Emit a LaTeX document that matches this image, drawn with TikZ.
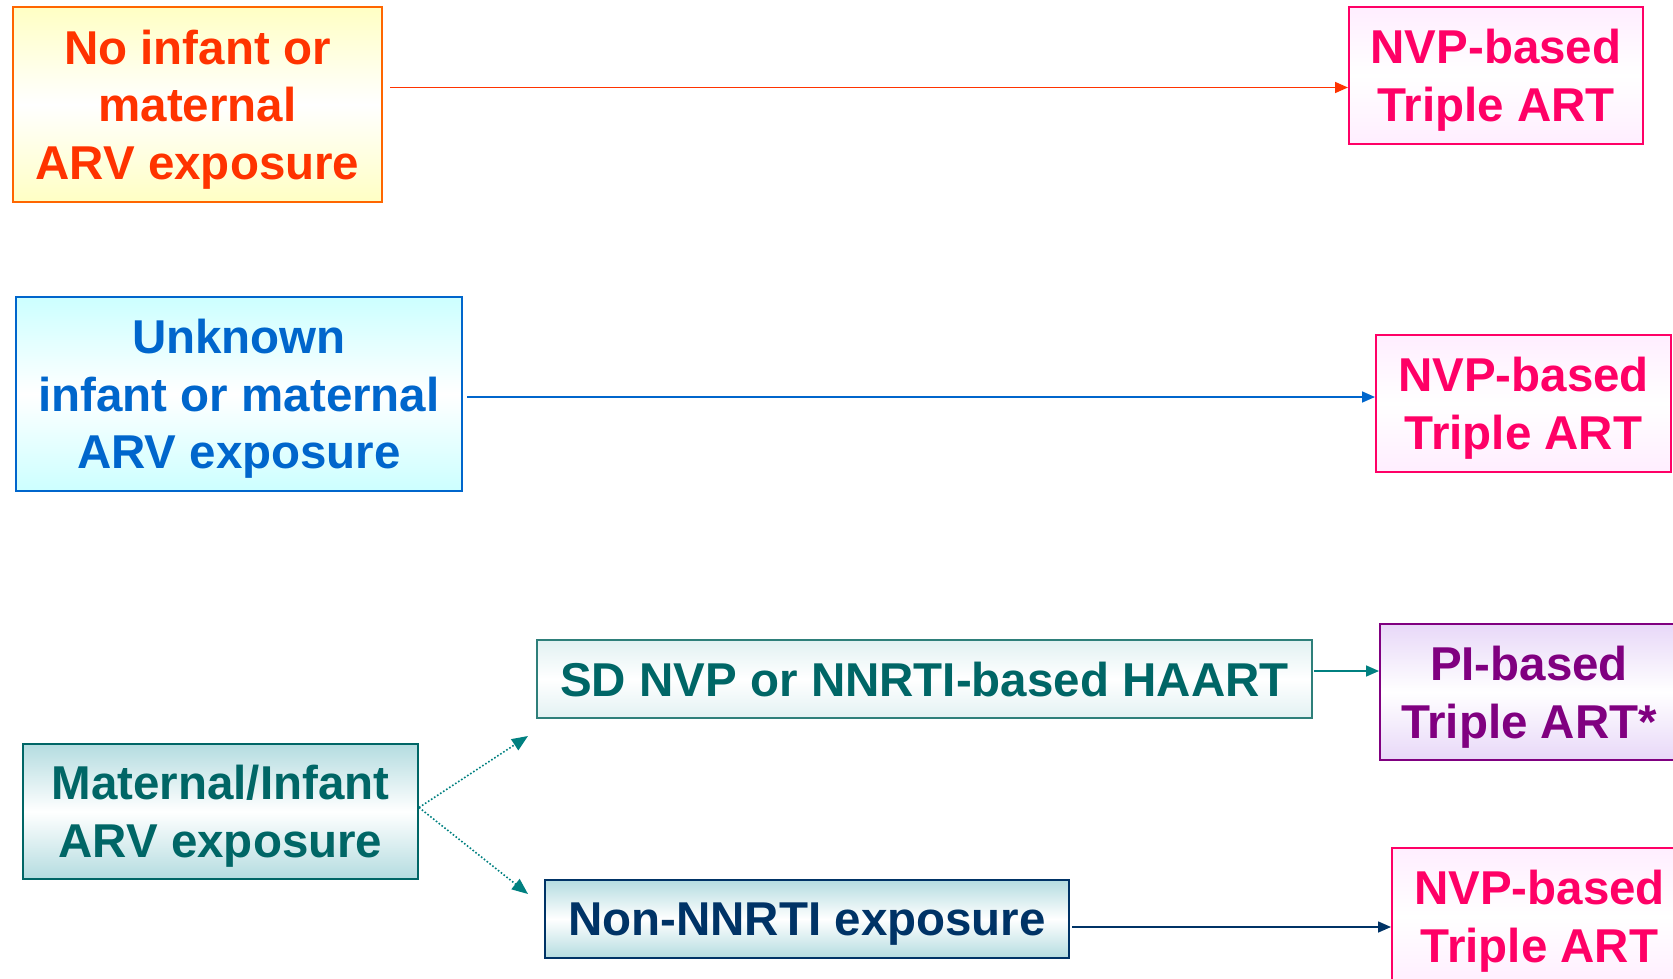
\documentclass[tikz,border=0pt]{standalone}
\usepackage{fontspec}
\setmainfont{Liberation Sans}
\usetikzlibrary{arrows.meta}
\definecolor{cOrT}{HTML}{FF3300}
\definecolor{cOrB}{HTML}{FF6600}
\definecolor{cOrF}{HTML}{FFFFC4}
\definecolor{cPk}{HTML}{FF0066}
\definecolor{cPkF}{HTML}{FFEEFF}
\definecolor{cBl}{HTML}{0066CC}
\definecolor{cBlF}{HTML}{CCFFFF}
\definecolor{cTl}{HTML}{006666}
\definecolor{cTlA}{HTML}{008080}
\definecolor{cTlF}{HTML}{B4DCE0}
\definecolor{cSdF}{HTML}{E2F1F2}
\definecolor{cSdB}{HTML}{2E7F7A}
\definecolor{cPu}{HTML}{800080}
\definecolor{cPuF}{HTML}{E8D8F8}
\definecolor{cNv}{HTML}{003366}
\tikzset{
  box/.style={draw, line width=2pt, inner sep=0pt, align=center, text depth=0pt,
    font=\fontsize{47.5}{57.6}\selectfont\bfseries},
  nvpbox/.style={box, draw=cPk, text=cPk, top color=cPkF, bottom color=cPkF, middle color=white},
  arr/.style={line width=1.6pt, -{Triangle[length=13pt,width=11pt]}},
  dotarr/.style={line width=1.6pt, dotted, cTlA, -{Triangle[length=16pt,width=13pt]}}
}
\begin{document}
\begin{tikzpicture}[x=1pt,y=-1pt]
\useasboundingbox (0,0) rectangle (1673,979);
% row 1
\node[box, draw=cOrB, text=cOrT, top color=cOrF, bottom color=cOrF, middle color=white,
  minimum width=369pt, minimum height=195pt] (n1) at (197.5,104.5)
  {No infant or\\maternal\\ARV exposure};
\node[nvpbox, minimum width=294pt, minimum height=137pt] (t1) at (1496,75.5)
  {NVP-based\\Triple ART};
\coordinate (a1s) at (390,87.5);
\draw[arr, cOrT] (a1s) -- (a1s -| t1.west);
% row 2
\node[box, draw=cBl, text=cBl, top color=cBlF, bottom color=cBlF, middle color=white,
  minimum width=446pt, minimum height=194pt] (n2) at (239,394)
  {Unknown\\infant or maternal\\ARV exposure};
\node[nvpbox, minimum width=295pt, minimum height=137pt] (t2) at (1523.5,403.5)
  {NVP-based\\Triple ART};
\coordinate (a2s) at (467,397);
\draw[arr, cBl] (a2s) -- (a2s -| t2.west);
% row 3
\node[box, draw=cTl, text=cTl, top color=cTlF, bottom color=cTlF, middle color=white,
  minimum width=395pt, minimum height=135pt] (m) at (220.5,811.5)
  {Maternal/Infant\\ARV exposure};
\node[box, draw=cSdB, text=cTl, top color=cSdF, bottom color=cSdF, middle color=white,
  minimum width=775pt, minimum height=78pt] (sd) at (924.5,679)
  {SD NVP or NNRTI-based HAART};
\node[box, draw=cPu, text=cPu, top color=cPuF, bottom color=cPuF, middle color=white,
  minimum width=298pt, minimum height=136pt] (pi) at (1529,692)
  {PI-based\\Triple ART*};
\node[box, draw=cNv, text=cNv, top color=cTlF, bottom color=cTlF, middle color=white,
  minimum width=524pt, minimum height=78pt] (non) at (807,919)
  {Non-NNRTI exposure};
\node[nvpbox, minimum width=295pt, minimum height=137pt] (t3) at (1539.5,916.5)
  {NVP-based\\Triple ART};
\coordinate (a3s) at (1314,671);
\draw[arr, cTlA] (a3s) -- (a3s -| pi.west);
\coordinate (a4s) at (1072,927);
\draw[arr, cNv] (a4s) -- (a4s -| t3.west);
\coordinate (d1e) at (528,736);
\coordinate (d2e) at (528,894);
\draw[dotarr] ([yshift=4pt]m.east) -- (d1e);
\draw[dotarr] ([yshift=4pt]m.east) -- (d2e);
\end{tikzpicture}
\end{document}
